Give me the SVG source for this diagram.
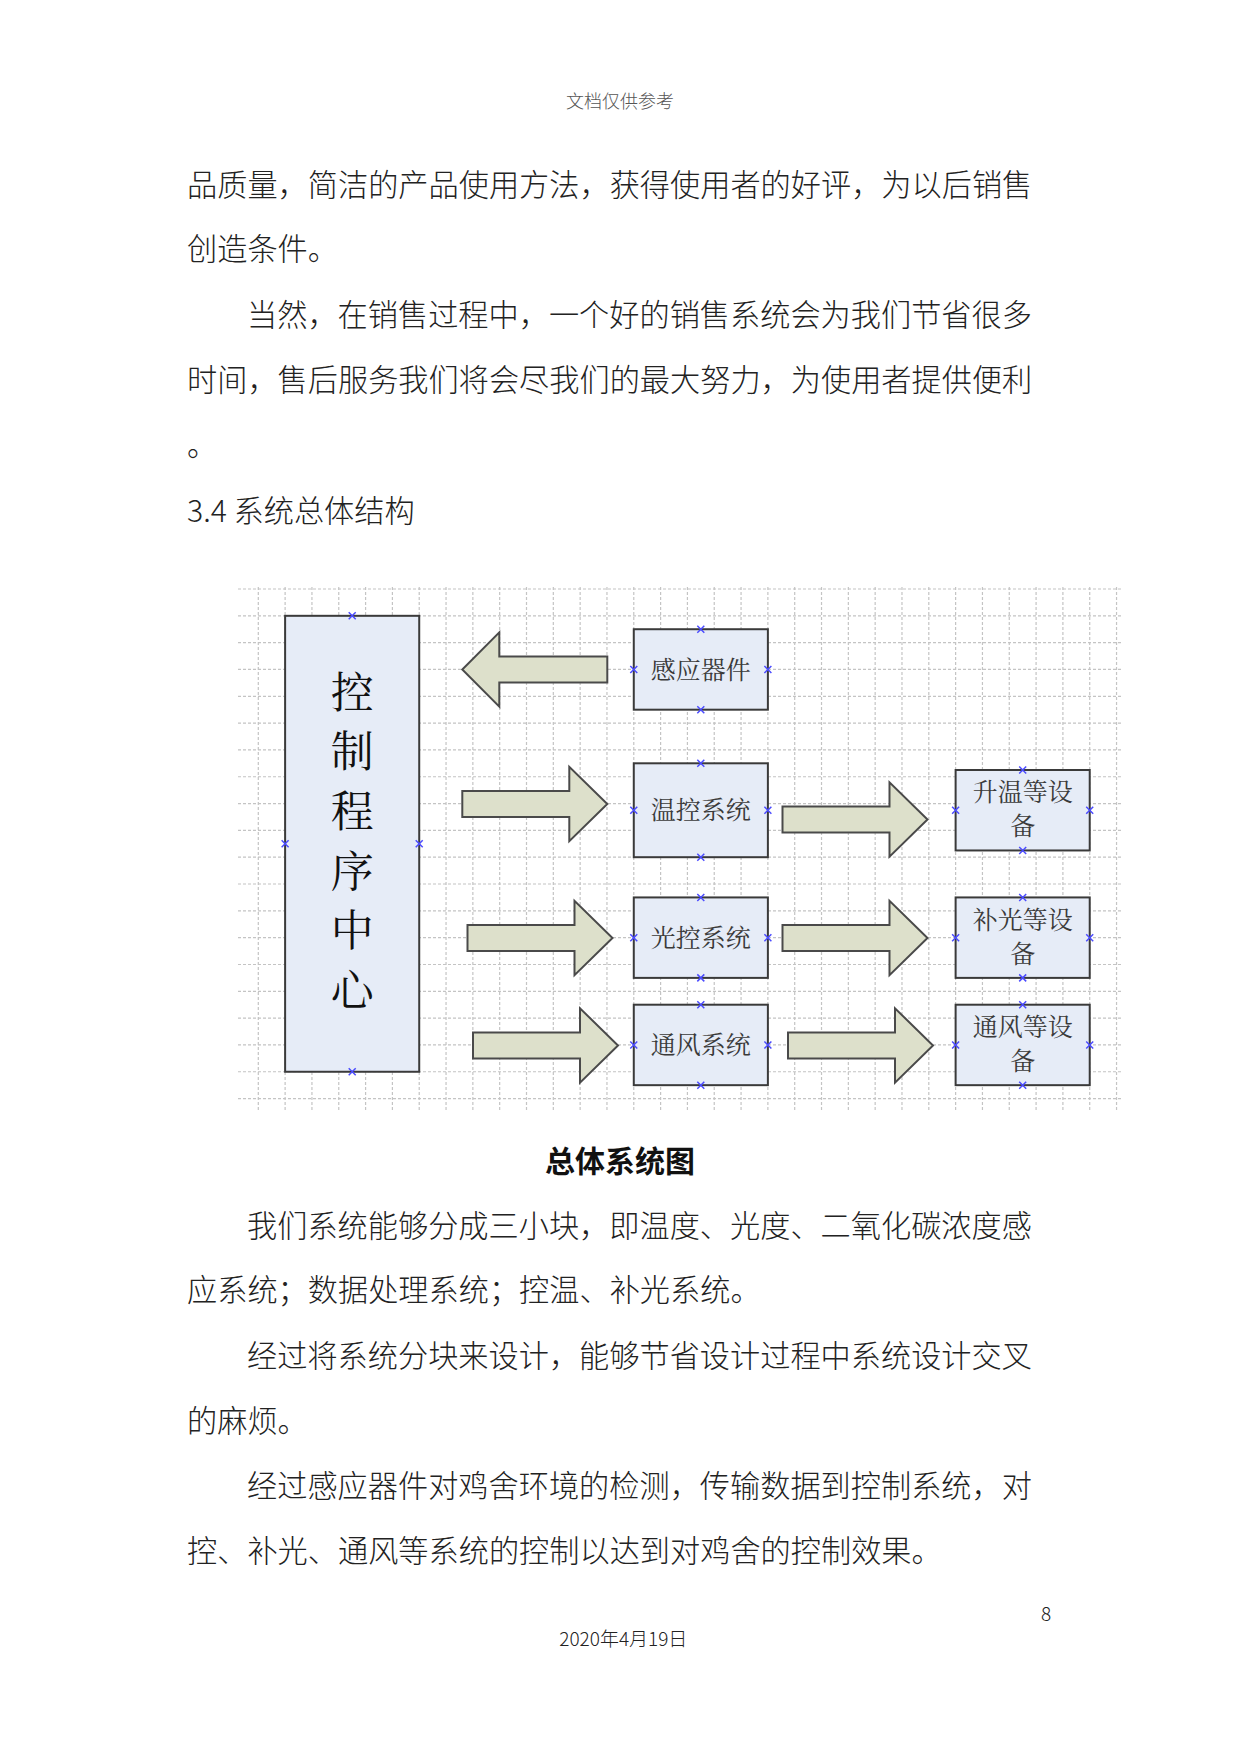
<svg xmlns="http://www.w3.org/2000/svg" xmlns:xlink="http://www.w3.org/1999/xlink" width="1241" height="1754" viewBox="0 0 1241 1754">
<style>
.body{font-family:"Noto Sans CJK SC","Noto Sans",sans-serif;font-size:30.2px;font-weight:300;fill:#222}
.hdr{font-family:"Noto Sans CJK SC",sans-serif;font-size:18px;font-weight:300;fill:#555;text-anchor:middle}
.cap{font-family:"Noto Sans CJK SC",sans-serif;font-size:30px;font-weight:700;fill:#111;text-anchor:middle}
.foot{font-family:"Noto Sans CJK SC",sans-serif;font-size:19px;font-weight:300;fill:#222}
.grid{stroke:#c4c4c4;stroke-width:1.2;stroke-dasharray:3 2;fill:none}
.box{fill:#E6ECF7;stroke:#3a3a3a;stroke-width:2}
.arrow{fill:#DDE0CB;stroke:#4a4a4a;stroke-width:2}
.lbl{font-family:"Noto Serif CJK SC","Noto Sans CJK SC",serif;font-size:25px;fill:#3a3a3a;text-anchor:middle}
.big{font-family:"Noto Serif CJK SC","Noto Sans CJK SC",serif;font-size:43px;fill:#111;text-anchor:middle}
.mk{stroke:#4b4bff;stroke-width:1.5;fill:none}
</style>
<defs>
<path id="mk" class="mk" d="M-3.5,-3.5L3.5,3.5M-3.5,3.5L3.5,-3.5"/>
</defs>
<rect width="1241" height="1754" fill="#fff"/>
<text class="hdr" x="620" y="107.5">文档仅供参考</text>
<text class="body" x="187" y="196">品质量，简洁的产品使用方法，获得使用者的好评，为以后销售</text>
<text class="body" x="187" y="259.5">创造条件。</text>
<text class="body" x="247" y="325.5">当然，在销售过程中，一个好的销售系统会为我们节省很多</text>
<text class="body" x="187" y="390.5">时间，售后服务我们将会尽我们的最大努力，为使用者提供便利</text>
<text class="body" x="187" y="455.5">。</text>
<text class="body" x="187" y="521.5">3.4 系统总体结构</text>
<g id="grid">
<path class="grid" d="M238,589H1121M238,615.82H1121M238,642.64H1121M238,669.46H1121M238,696.28H1121M238,723.1H1121M238,749.92H1121M238,776.74H1121M238,803.56H1121M238,830.38H1121M238,857.2H1121M238,884.02H1121M238,910.84H1121M238,937.66H1121M238,964.48H1121M238,991.3H1121M238,1018.12H1121M238,1044.94H1121M238,1071.76H1121M238,1098.58H1121"/>
<path class="grid" d="M258.3,587V1110M285.12,587V1110M311.94,587V1110M338.76,587V1110M365.58,587V1110M392.4,587V1110M419.22,587V1110M446.04,587V1110M472.86,587V1110M499.68,587V1110M526.5,587V1110M553.32,587V1110M580.14,587V1110M606.96,587V1110M633.78,587V1110M660.6,587V1110M687.42,587V1110M714.24,587V1110M741.06,587V1110M767.88,587V1110M794.7,587V1110M821.52,587V1110M848.34,587V1110M875.16,587V1110M901.98,587V1110M928.8,587V1110M955.62,587V1110M982.44,587V1110M1009.26,587V1110M1036.08,587V1110M1062.9,587V1110M1089.72,587V1110M1116.54,587V1110"/>
</g>
<g id="connectors">
<polygon class="arrow" points="607.3,656.5 499.3,656.5 499.3,632.3 462.3,669.5 499.3,706.7 499.3,682.5 607.3,682.5"/>
<polygon class="arrow" points="462.3,791 569.3,791 569.3,766.8 607.3,804 569.3,841.2 569.3,817 462.3,817"/>
<polygon class="arrow" points="782.5,806.5 889.5,806.5 889.5,782.3 927.5,819.5 889.5,856.7 889.5,832.5 782.5,832.5"/>
<polygon class="arrow" points="467.5,925 574.5,925 574.5,900.8 612.5,938 574.5,975.2 574.5,951 467.5,951"/>
<polygon class="arrow" points="782.5,925 889.5,925 889.5,900.8 927.5,938 889.5,975.2 889.5,951 782.5,951"/>
<polygon class="arrow" points="473,1032.5 580,1032.5 580,1008.3 618,1045.5 580,1082.7 580,1058.5 473,1058.5"/>
<polygon class="arrow" points="788,1032.5 895,1032.5 895,1008.3 933,1045.5 895,1082.7 895,1058.5 788,1058.5"/>
</g>
<g id="ctrl">
<rect class="box" x="285.12" y="615.82" width="134.1" height="455.94"/>
<text class="big" x="352.2"><tspan x="352.2" y="707.6">控</tspan><tspan x="352.2" y="767.3">制</tspan><tspan x="352.2" y="827">程</tspan><tspan x="352.2" y="886.7">序</tspan><tspan x="352.2" y="946.4">中</tspan><tspan x="352.2" y="1006.1">心</tspan></text>
<use xlink:href="#mk" x="352.2" y="615.82"/><use xlink:href="#mk" x="352.2" y="1071.76"/><use xlink:href="#mk" x="285.12" y="843.8"/><use xlink:href="#mk" x="419.22" y="843.8"/>
</g>
<g id="sensor">
<rect class="box" x="633.78" y="629.23" width="134.1" height="80.46"/>
<text class="lbl" x="700.8" y="678.5">感应器件</text>
<use xlink:href="#mk" x="700.8" y="629.23"/><use xlink:href="#mk" x="700.8" y="709.69"/><use xlink:href="#mk" x="633.78" y="669.46"/><use xlink:href="#mk" x="767.88" y="669.46"/>
</g>
<g id="temp">
<rect class="box" x="633.78" y="763.3" width="134.1" height="93.9"/>
<text class="lbl" x="700.8" y="819.3">温控系统</text>
<use xlink:href="#mk" x="700.8" y="763.3"/><use xlink:href="#mk" x="700.8" y="857.2"/><use xlink:href="#mk" x="633.78" y="810.25"/><use xlink:href="#mk" x="767.88" y="810.25"/>
</g>
<g id="light">
<rect class="box" x="633.78" y="897.43" width="134.1" height="80.46"/>
<text class="lbl" x="700.8" y="946.7">光控系统</text>
<use xlink:href="#mk" x="700.8" y="897.43"/><use xlink:href="#mk" x="700.8" y="977.89"/><use xlink:href="#mk" x="633.78" y="937.66"/><use xlink:href="#mk" x="767.88" y="937.66"/>
</g>
<g id="vent">
<rect class="box" x="633.78" y="1004.71" width="134.1" height="80.46"/>
<text class="lbl" x="700.8" y="1054">通风系统</text>
<use xlink:href="#mk" x="700.8" y="1004.71"/><use xlink:href="#mk" x="700.8" y="1085.17"/><use xlink:href="#mk" x="633.78" y="1044.94"/><use xlink:href="#mk" x="767.88" y="1044.94"/>
</g>
<g id="heatdev">
<rect class="box" x="955.62" y="770" width="134.1" height="80.46"/>
<text class="lbl"><tspan x="1022.7" y="801.2">升温等设</tspan><tspan x="1022.7" y="835.2">备</tspan></text>
<use xlink:href="#mk" x="1022.7" y="770"/><use xlink:href="#mk" x="1022.7" y="850.46"/><use xlink:href="#mk" x="955.62" y="810.23"/><use xlink:href="#mk" x="1089.72" y="810.23"/>
</g>
<g id="lightdev">
<rect class="box" x="955.62" y="897.43" width="134.1" height="80.46"/>
<text class="lbl"><tspan x="1022.7" y="928.7">补光等设</tspan><tspan x="1022.7" y="962.7">备</tspan></text>
<use xlink:href="#mk" x="1022.7" y="897.43"/><use xlink:href="#mk" x="1022.7" y="977.89"/><use xlink:href="#mk" x="955.62" y="937.66"/><use xlink:href="#mk" x="1089.72" y="937.66"/>
</g>
<g id="ventdev">
<rect class="box" x="955.62" y="1004.71" width="134.1" height="80.46"/>
<text class="lbl"><tspan x="1022.7" y="1036">通风等设</tspan><tspan x="1022.7" y="1070">备</tspan></text>
<use xlink:href="#mk" x="1022.7" y="1004.71"/><use xlink:href="#mk" x="1022.7" y="1085.17"/><use xlink:href="#mk" x="955.62" y="1044.94"/><use xlink:href="#mk" x="1089.72" y="1044.94"/>
</g>
<text class="cap" x="620" y="1171.5">总体系统图</text>
<text class="body" x="247" y="1236.5">我们系统能够分成三小块，即温度、光度、二氧化碳浓度感</text>
<text class="body" x="187" y="1301">应系统；数据处理系统；控温、补光系统。</text>
<text class="body" x="247" y="1367">经过将系统分块来设计，能够节省设计过程中系统设计交叉</text>
<text class="body" x="187" y="1432">的麻烦。</text>
<text class="body" x="247" y="1497">经过感应器件对鸡舍环境的检测，传输数据到控制系统，对</text>
<text class="body" x="187" y="1562">控、补光、通风等系统的控制以达到对鸡舍的控制效果。</text>
<text class="foot" x="1041" y="1621" font-size="18">8</text>
<text class="foot" x="623.3" y="1646" text-anchor="middle">2020年4月19日</text>
</svg>
